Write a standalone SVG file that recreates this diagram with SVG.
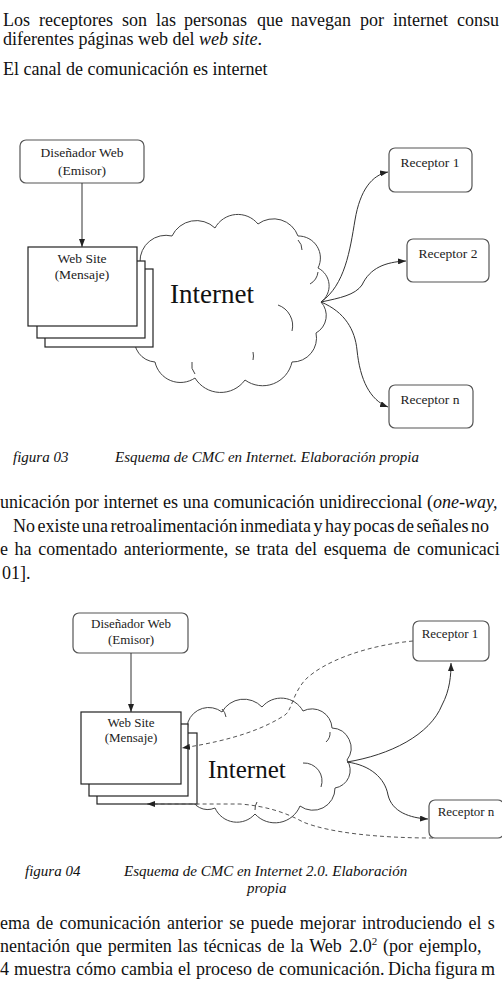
<svg xmlns="http://www.w3.org/2000/svg" width="502" height="987" viewBox="0 0 502 987">
<style>
.body{font-family:"Liberation Serif","Times New Roman",serif;font-size:18px;fill:#111}
.it{font-style:italic}
.cap{font-family:"Liberation Serif","Times New Roman",serif;font-size:15px;font-style:italic;fill:#111}
.lbl{font-family:"Liberation Serif","Times New Roman",serif;font-size:13.5px;fill:#222;text-anchor:middle}
.lbl2{font-family:"Liberation Serif","Times New Roman",serif;font-size:13px;fill:#222;text-anchor:middle}
.big{font-family:"Liberation Serif","Times New Roman",serif;font-size:27px;fill:#111}
.rbox{fill:#fff;stroke:#555;stroke-width:1.2}
.sbox{fill:#fff;stroke:#222;stroke-width:1.2}
.cloud{fill:#fff;stroke:#444;stroke-width:1}
.inner{fill:none;stroke:#444;stroke-width:1}
.conn{fill:none;stroke:#333;stroke-width:1}
.dash{fill:none;stroke:#555;stroke-width:1;stroke-dasharray:4,3}
</style>
<defs>
<marker id="ah" markerUnits="userSpaceOnUse" markerWidth="8" markerHeight="6" refX="8" refY="3" orient="auto">
<path d="M0,0 L8,3 L0,6 Z" fill="#222"/>
</marker>
</defs>
<rect width="502" height="987" fill="#fff"/>

<!-- body text top -->
<text class="body" y="26"><tspan x="3">Los</tspan><tspan x="39">receptores</tspan><tspan x="122">son</tspan><tspan x="156">las</tspan><tspan x="184">personas</tspan><tspan x="257">que</tspan><tspan x="291">navegan</tspan><tspan x="360">por</tspan><tspan x="393">internet</tspan><tspan x="457">consu</tspan></text>
<text class="body" y="45"><tspan x="3">diferentes</tspan><tspan x="78.5">páginas</tspan><tspan x="138">web</tspan><tspan x="172.5">del</tspan><tspan x="199" class="it">web</tspan><tspan x="232.5" class="it">site</tspan><tspan>.</tspan></text>
<text class="body" y="75"><tspan x="3">El</tspan><tspan x="23.5">canal</tspan><tspan x="66">de</tspan><tspan x="87.5">comunicación</tspan><tspan x="193">es</tspan><tspan x="212.5">internet</tspan></text>

<!-- figure 1 -->
<g id="cloud1">
<path class="cloud" d="M140,262 A26,26 0 0 1 172,236 A27,27 0 0 1 215,228 A26,26 0 0 1 258,224 A26,26 0 0 1 298,236 A22,22 0 0 1 318,268 A20,20 0 0 1 321,302 A20,20 0 0 1 316,333 A24,24 0 0 1 292,362 A30,30 0 0 1 245,380 A30,30 0 0 1 195,378 A26,26 0 0 1 155,362 A22,22 0 0 1 135,335 A22,22 0 0 1 134,298 A22,22 0 0 1 140,262 Z"/>
<path class="inner" d="M298,240 a14,14 0 0 1 4,10 M318,272 a16,16 0 0 1 -8,12 M278,305 a22,22 0 0 1 14,26 M253,352 a18,18 0 0 1 0,8 M195,374 a14,14 0 0 1 -3,-12"/>
<text class="big" x="170" y="303">Internet</text>
</g>
<g id="emisor1">
<rect class="rbox" x="20" y="140" width="124" height="43" rx="6"/>
<text class="lbl" x="82" y="157">Diseñador Web</text>
<text class="lbl" x="82" y="175">(Emisor)</text>
</g>
<g id="mensaje1">
<rect class="sbox" x="45" y="269" width="108" height="78"/>
<rect class="sbox" x="37" y="261" width="108" height="77"/>
<rect class="sbox" x="28" y="247" width="109" height="79"/>
<text class="lbl" x="82" y="263">Web Site</text>
<text class="lbl" x="82" y="279">(Mensaje)</text>
</g>
<g id="receptor1a">
<rect class="rbox" x="389" y="148" width="83" height="44" rx="6"/>
<text class="lbl" x="430" y="167">Receptor 1</text>
</g>
<g id="receptor2a">
<rect class="rbox" x="407" y="239" width="82" height="43" rx="6"/>
<text class="lbl" x="448" y="258">Receptor 2</text>
</g>
<g id="receptorna">
<rect class="rbox" x="389" y="385" width="84" height="43" rx="6"/>
<text class="lbl" x="430" y="404">Receptor n</text>
</g>
<g id="connectors1">
<path class="conn" d="M82,183 L82,247" marker-end="url(#ah)"/>
<path class="conn" d="M321,302 C345,285 350,250 355,220 C360,190 372,175 388,172" marker-end="url(#ah)"/>
<path class="conn" d="M321,302 C340,298 355,295 362,285 C370,268 385,262 406,261" marker-end="url(#ah)"/>
<path class="conn" d="M321,302 C345,312 355,330 357,350 C360,380 370,400 388,407" marker-end="url(#ah)"/>
</g>
<text class="cap" x="13" y="462">figura 03</text>
<text class="cap" x="115" y="462">Esquema de CMC en Internet. Elaboración propia</text>

<!-- middle text -->
<text class="body" y="508"><tspan x="0">unicación</tspan><tspan x="74.7">por</tspan><tspan x="103.4">internet</tspan><tspan x="163.1">es</tspan><tspan x="182.8">una</tspan><tspan x="213.5">comunicación</tspan><tspan x="319.2">unidireccional</tspan><tspan x="426.9">(</tspan><tspan class="it">one-way,</tspan></text>
<text class="body" y="532"><tspan x="13">No</tspan><tspan x="37.5">existe</tspan><tspan x="82">una</tspan><tspan x="110.5">retroalimentación</tspan><tspan x="240">inmediata</tspan><tspan x="313.5">y</tspan><tspan x="325">hay</tspan><tspan x="353.5">pocas</tspan><tspan x="397">de</tspan><tspan x="416.5">señales</tspan><tspan x="471">no</tspan></text>
<text class="body" y="555"><tspan x="0">e</tspan><tspan x="14.6">ha</tspan><tspan x="38.2">comentado</tspan><tspan x="123.8">anteriormente,</tspan><tspan x="234.9">se</tspan><tspan x="256.5">trata</tspan><tspan x="295.1">del</tspan><tspan x="323.7">esquema</tspan><tspan x="393.3">de</tspan><tspan x="416.9">comunicaci</tspan></text>
<text class="body" x="2" y="579">01].</text>

<!-- figure 2 -->
<g id="cloud2">
<path class="cloud" d="M188,722 A22,22 0 0 1 222,712 A25,25 0 0 1 262,707 A25,25 0 0 1 303,711 A20,20 0 0 1 332,728 A20,20 0 0 1 347,760 A18,18 0 0 1 335,788 A22,22 0 0 1 300,806 A27,27 0 0 1 255,814 A24,24 0 0 1 215,808 A18,18 0 0 1 190,795 L185,760 Z"/>
<path class="inner" d="M330,732 a12,12 0 0 1 -4,10 M303,763 a18,18 0 0 1 18,24 M255,810 a14,14 0 0 1 2,-8 M222,709 a14,14 0 0 1 4,8"/>
<text class="big" x="208" y="778" style="font-size:25px">Internet</text>
</g>
<g id="emisor2">
<rect class="rbox" x="73" y="613" width="115" height="40" rx="6"/>
<text class="lbl2" x="131" y="628">Diseñador Web</text>
<text class="lbl2" x="131" y="644">(Emisor)</text>
</g>
<g id="mensaje2">
<rect class="sbox" x="97" y="733" width="100" height="71"/>
<rect class="sbox" x="89" y="724" width="99" height="72"/>
<rect class="sbox" x="81" y="712" width="100" height="72"/>
<text class="lbl2" x="131" y="727">Web Site</text>
<text class="lbl2" x="131" y="742">(Mensaje)</text>
</g>
<g id="receptor1b">
<rect class="rbox" x="413" y="621" width="76" height="40" rx="6"/>
<text class="lbl2" x="450" y="638">Receptor 1</text>
</g>
<g id="receptornb">
<rect class="rbox" x="429" y="800" width="75" height="38" rx="6"/>
<text class="lbl2" x="466" y="816">Receptor n</text>
</g>
<g id="connectors2">
<path class="conn" d="M131,653 L131,712" marker-end="url(#ah)"/>
<path class="conn" d="M347,762 C390,755 430,735 442,705 C450,690 451,675 451,663" marker-end="url(#ah)"/>
<path class="conn" d="M347,762 C370,765 385,778 388,795 C392,812 410,818 428,819" marker-end="url(#ah)"/>
<path class="dash" d="M413,641 C370,645 325,660 305,680 C292,695 292,710 285,715 C265,728 235,740 182,748" marker-end="url(#ah)"/>
<path class="dash" d="M433,838 C380,838 330,833 303,822 C285,812 265,806 240,804 L147,804" marker-end="url(#ah)"/>
</g>
<text class="cap" x="25" y="876">figura 04</text>
<text class="cap" x="124" y="876">Esquema de CMC en Internet 2.0. Elaboración</text>
<text class="cap" x="247" y="893">propia</text>

<!-- bottom text -->
<text class="body" y="929"><tspan x="0">ema</tspan><tspan x="36.3">de</tspan><tspan x="59.6">comunicación</tspan><tspan x="166.9">anterior</tspan><tspan x="229.2">se</tspan><tspan x="250.5">puede</tspan><tspan x="299.8">mejorar</tspan><tspan x="362.1">introduciendo</tspan><tspan x="468.4">el</tspan><tspan x="487.7">s</tspan></text>
<text class="body" y="952"><tspan x="0">nentación</tspan><tspan x="75.9">que</tspan><tspan x="107.8">permiten</tspan><tspan x="177.7">las</tspan><tspan x="203.6">técnicas</tspan><tspan x="267.5">de</tspan><tspan x="290.4">la</tspan><tspan x="309.3">Web</tspan><tspan x="349.2">2.0</tspan><tspan x="371.7" y="945" style="font-size:11px">2</tspan><tspan x="383.1" y="952">(por</tspan><tspan x="419">ejemplo,</tspan></text>
<text class="body" y="975"><tspan x="0">4</tspan><tspan x="14">muestra</tspan><tspan x="76">cómo</tspan><tspan x="121">cambia</tspan><tspan x="178">el</tspan><tspan x="196">proceso</tspan><tspan x="257">de</tspan><tspan x="279">comunicación.</tspan><tspan x="388">Dicha</tspan><tspan x="434.5">figura</tspan><tspan x="481">m</tspan></text>
</svg>
